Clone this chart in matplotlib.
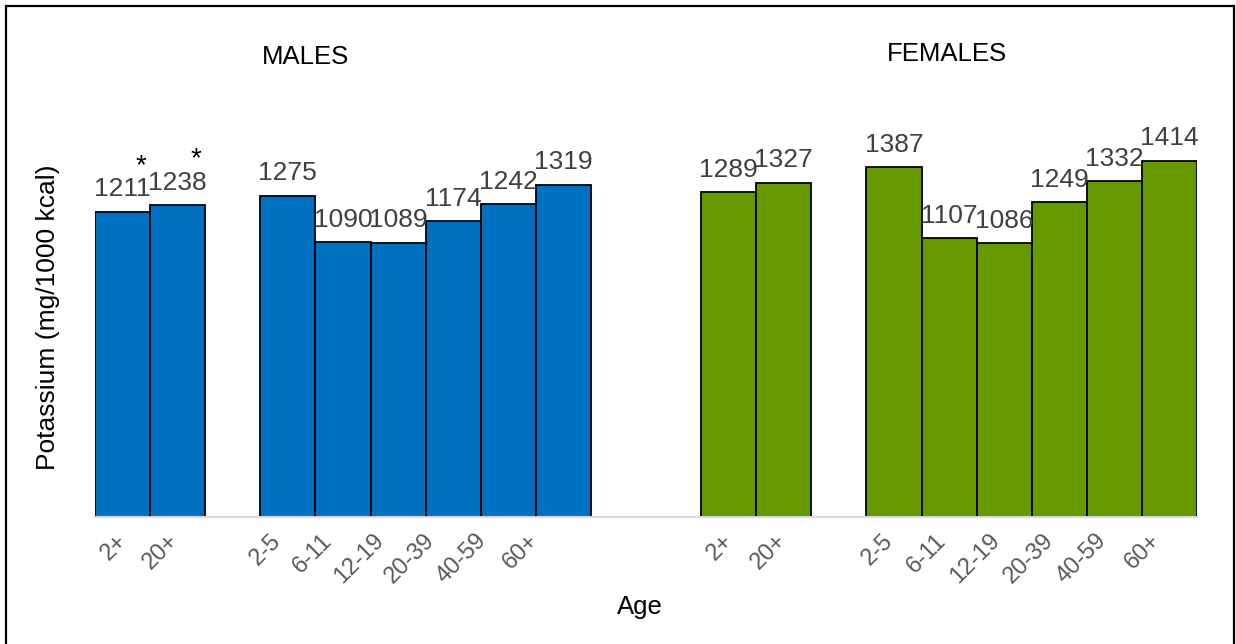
"""Potassium intake per 1000 kcal by sex and age group."""

import matplotlib.pyplot as plt
from matplotlib.patches import Rectangle
from matplotlib.transforms import ScaledTranslation

# ---------- Data ----------
AGE_LABELS = ["2+", "20+", "2-5", "6-11", "12-19", "20-39", "40-59", "60+"]
MALES = [1211, 1238, 1275, 1090, 1089, 1174, 1242, 1319]
FEMALES = [1289, 1327, 1387, 1107, 1086, 1249, 1332, 1414]
STARRED = [True, True, False, False, False, False, False, False]  # males only

# slot index of each bar along the x axis (gaps between groups)
MALE_SLOTS = [0, 1, 3, 4, 5, 6, 7, 8]
FEMALE_SLOTS = [11, 12, 14, 15, 16, 17, 18, 19]

# ---------- Theme ----------
BLUE = "#0070C0"
GREEN = "#669900"
VALUE_TXT = "#404040"
TICK_TXT = "#595959"
AXIS_LINE = "#D9D9D9"

# tick labels in the source drift left a little along each panel (px/slot)
MALE_DRIFT = 3.7
FEMALE_DRIFT = 1.7

plt.rcParams["font.family"] = ["Liberation Sans", "DejaVu Sans"]

W, H = 1236, 644
DPI = 100
fig = plt.figure(figsize=(W / DPI, H / DPI), dpi=DPI)
ax = fig.add_axes([95 / W, (H - 517) / H, (1197 - 95) / W, (517 - 13) / H])


def draw_group(slots, values, color, stars=None):
    bars = ax.bar(slots, values, width=1.0, color=color,
                  edgecolor="black", linewidth=1.3)
    for i, (bar, val) in enumerate(zip(bars, values)):
        cx = bar.get_x() + bar.get_width() / 2
        ax.annotate(str(val), (cx, val), xytext=(0, 7.5),
                    textcoords="offset points", ha="center", va="bottom",
                    fontsize=19, color=VALUE_TXT)
        if stars is not None and stars[i]:
            ax.annotate("*", (cx + 0.34, val), xytext=(0, 33),
                        textcoords="offset points", ha="center",
                        va="center", fontsize=20, color="black")


draw_group(MALE_SLOTS, MALES, BLUE, STARRED)
draw_group(FEMALE_SLOTS, FEMALES, GREEN)

ax.set_xlim(-0.5, 19.5)
ax.set_ylim(0, 2000)

ax.set_xticks(MALE_SLOTS + FEMALE_SLOTS)
ax.set_xticklabels(AGE_LABELS + AGE_LABELS, rotation=45, ha="right",
                   rotation_mode="anchor", fontsize=17, color=TICK_TXT)
ax.tick_params(axis="x", length=0, pad=9)
ax.set_yticks([])

shifts = ([7 + MALE_DRIFT * (s - MALE_SLOTS[0]) for s in MALE_SLOTS]
          + [7 + FEMALE_DRIFT * (s - FEMALE_SLOTS[0]) for s in FEMALE_SLOTS])
for lbl, dx in zip(ax.get_xticklabels(), shifts):
    lbl.set_transform(lbl.get_transform()
                      + ScaledTranslation(-dx / DPI, 0, fig.dpi_scale_trans))

for side in ("top", "right", "left"):
    ax.spines[side].set_visible(False)
ax.spines["bottom"].set_color(AXIS_LINE)
ax.spines["bottom"].set_linewidth(1.5)

fig.text(305 / W, 1 - 57 / H, "MALES", ha="center", va="center", fontsize=18.5)
fig.text(947 / W, 1 - 54 / H, "FEMALES", ha="center", va="center", fontsize=18.5)
fig.text(640 / W, 1 - 607 / H, "Age", ha="center", va="center", fontsize=18.5)
fig.text(48 / W, 1 - 317 / H, "Potassium (mg/1000 kcal)", ha="center",
         va="center", rotation=90, fontsize=19)

# outer frame
fig.patches.append(Rectangle((6 / W, -0.05), (1234 - 6) / W, 1.05 - 6 / H,
                             transform=fig.transFigure, fill=False,
                             edgecolor="black", linewidth=1.6))

fig.savefig("out.png", dpi=DPI, facecolor="white")
